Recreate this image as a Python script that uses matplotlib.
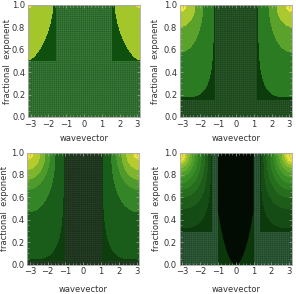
import matplotlib
matplotlib.use('Agg')
import matplotlib.pyplot as plt
import numpy as np

plt.rcParams['hatch.linewidth'] = 0.4

# block half-width (wavevector) and bottom band height (exponent) per panel
block_k = [1.57, 1.20, 1.05, 1.35]
band_a = [0.50, 0.15, 0.035, 0.29]

# contour crossings read off the top edge (|k|) and the outer edge (alpha),
# listed from the top corner inwards, with the roundness of each contour
top_k = [
    [2.90, 1.75],
    [2.80, 2.30, 1.87, 1.28],
    [2.81, 2.43, 2.15, 1.87, 1.59, 1.12],
    [2.84, 2.74, 2.60, 2.45, 2.29, 2.12, 1.93, 1.75, 1.58, 1.42],
]
edge_a = [
    [0.975, 0.51],
    [0.94, 0.81, 0.58, 0.18],
    [0.94, 0.85, 0.76, 0.67, 0.47, 0.05],
    [0.92, 0.895, 0.865, 0.825, 0.78, 0.725, 0.67, 0.60, 0.50, 0.33],
]
roundness = [
    [2.0, 1.6],
    [2.0, 2.0, 2.0, 4.0],
    [2.0, 2.0, 2.0, 2.0, 2.2, 4.0],
    [2.0, 2.0, 2.0, 2.0, 2.0, 2.0, 2.2, 2.4, 2.8, 3.5],
]
fill_colors = [
    ['#0f500f', '#a3c72a', '#f0e030'],
    ['#0c3b0c', '#2b7b23', '#5aa22c', '#aac930', '#f2e83a'],
    ['#0e3d0e', '#1a5c1a', '#348527', '#4e9a2a', '#7fb52d', '#b5cc2c', '#ece23a'],
    ['#0d3a0d', '#154c15', '#1d5c19', '#266d1d', '#2f7e22', '#3b8e26', '#4f9d2a',
     '#6aac2c', '#8cbd2e', '#b8cf2c', '#e8e036', '#ffffff'],
]
mesh_colors = ['#285e28', '#1d431d', '#1a2e1a', '#22462a']
inner_color = '#0b370b'   # panel 4, inside |k| < 1
core_color = '#020c02'    # panel 4, dark core
core_width = 1.45         # |k| = core_width * sqrt(alpha)

k = np.linspace(-np.pi, np.pi, 800)
a = np.linspace(0, 1, 600)
K, A = np.meshgrid(k, a)

positions = [(28, 5), (180, 5), (27.3, 152.5), (179.7, 152.5)]
ylab_x = [-0.147, -0.183, -0.162, -0.171]
xlab_y = [-0.155, -0.155, -0.185, -0.185]
W, H = 296, 294

fig = plt.figure(figsize=(W / 100, H / 100), dpi=100)

for i in range(4):
    x0, y0 = positions[i]
    ax = fig.add_axes([x0 / W, 1 - (y0 + 112) / H, 112 / W, 112 / H])
    kb, ab = block_k[i], band_a[i]
    # distance from the top corner, scaled to the open region
    U = (np.pi - np.abs(K)) / (np.pi - kb)
    V = (1 - A) / (1 - ab)
    Z = np.zeros_like(K)
    for tk, ea, p in zip(top_k[i], edge_a[i], roundness[i]):
        ui = (np.pi - tk) / (np.pi - kb)
        vi = (1 - ea) / (1 - ab)
        Z += ((U / ui) ** p + (V / vi) ** p) < 1
    levels = np.arange(len(fill_colors[i]) + 1) - 0.5
    ax.contourf(K, A, Z, levels=levels, colors=fill_colors[i])

    mc = mesh_colors[i]
    hc = matplotlib.colors.to_rgba(mc)
    hc = tuple(min(1, c * 1.25 + 0.02) for c in hc[:3])
    ax.fill_between([-np.pi, np.pi], 0, ab, facecolor=mc, edgecolor=hc,
                    hatch='++++++++', lw=0)
    ax.fill_between([-kb, kb], 0, 1, facecolor=mc, edgecolor=hc,
                    hatch='++++++++', lw=0)
    if i == 3:
        ax.fill_between([-1.0, 1.0], 0, 1, facecolor=inner_color, lw=0)
        core = np.minimum(1.0, core_width * np.sqrt(a))
        ax.fill_betweenx(a, -core, core, facecolor=core_color, lw=0)

    ax.set_xlim(-np.pi, np.pi)
    ax.set_ylim(0, 1)
    ax.set_xticks([-3, -2, -1, 0, 1, 2, 3])
    ax.set_xticklabels(['\u22123', '\u22122', '\u22121', '0', '1', '2', '3'])
    ax.set_yticks([0, 0.2, 0.4, 0.6, 0.8, 1.0])
    ax.set_yticklabels(['0.0', '0.2', '0.4', '0.6', '0.8', '1.0'])
    ax.set_xticks(np.arange(-3, 3.01, 0.2), minor=True)
    ax.set_yticks(np.arange(0, 1.001, 0.05), minor=True)
    ax.tick_params(which='both', direction='in', top=True, right=True,
                   color='#aaaaaa', labelsize=6, labelcolor='#333333', pad=2)
    ax.tick_params(which='major', length=2.5, width=0.5)
    ax.tick_params(which='minor', length=1.3, width=0.4)
    for s in ax.spines.values():
        s.set_color('#aaaaaa')
        s.set_linewidth(0.6)
    ax.set_xlabel('wavevector', fontsize=6, color='#333333')
    ax.set_ylabel('fractional  exponent', fontsize=6, color='#333333')
    ax.xaxis.set_label_coords(0.5, xlab_y[i])
    ax.yaxis.set_label_coords(ylab_x[i], 0.5)

plt.savefig('out.png', dpi=100)
